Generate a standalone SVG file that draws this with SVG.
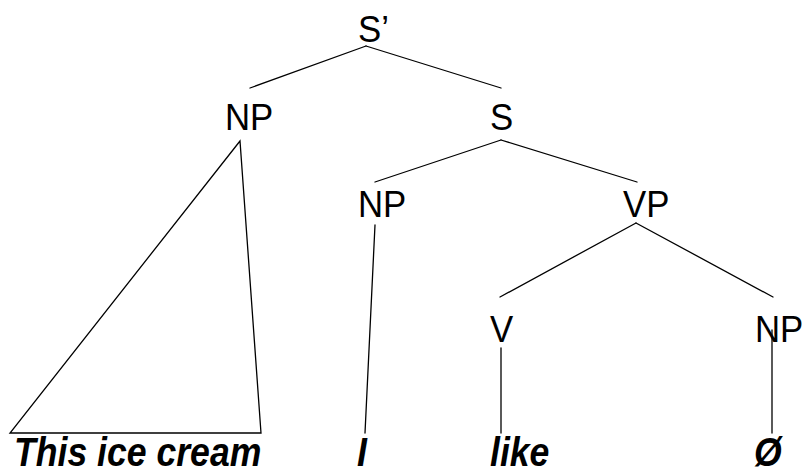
<svg xmlns="http://www.w3.org/2000/svg" width="802" height="468" viewBox="0 0 802 468">
  <style>
    .cat { font-family: "Liberation Sans", Arial, sans-serif; font-size: 37px; fill: #000; }
    .word { font-family: "Liberation Sans", Arial, sans-serif; font-size: 40px; font-weight: bold; font-style: italic; fill: #000; }
    .edge { stroke: #000; stroke-width: 1.3; fill: none; stroke-linecap: round; stroke-linejoin: miter; }
  </style>
  <rect width="802" height="468" fill="#fff"/>

  <!-- tree branches -->
  <g id="connectors">
    <line class="edge" x1="366" y1="46" x2="250" y2="88"/>
    <line class="edge" x1="366" y1="46" x2="501" y2="88"/>
    <polygon class="edge" points="240,141 10,433 261,433"/>
    <line class="edge" x1="501" y1="140" x2="375" y2="182"/>
    <line class="edge" x1="501" y1="140" x2="637" y2="182"/>
    <line class="edge" x1="375" y1="225" x2="365" y2="433"/>
    <line class="edge" x1="636" y1="223" x2="500" y2="297"/>
    <line class="edge" x1="636" y1="223" x2="773" y2="297"/>
    <line class="edge" x1="501" y1="348" x2="501" y2="433"/>
    <line class="edge" x1="772" y1="330" x2="772" y2="433"/>
  </g>

  <!-- category labels (slightly condensed sans) -->
  <g id="node-sbar"><text class="cat" transform="translate(358,42) scale(0.94,1)">S’</text></g>
  <g id="node-np-topic"><text class="cat" transform="translate(225,130) scale(0.94,1)">NP</text></g>
  <g id="node-s"><text class="cat" transform="translate(490,130) scale(0.94,1)">S</text></g>
  <g id="node-np-subj"><text class="cat" transform="translate(358,217) scale(0.94,1)">NP</text></g>
  <g id="node-vp"><text class="cat" transform="translate(623,217) scale(0.94,1)">VP</text></g>
  <g id="node-v"><text class="cat" transform="translate(490,342) scale(0.94,1)">V</text></g>
  <g id="node-np-obj"><text class="cat" transform="translate(755,342) scale(0.94,1)">NP</text></g>

  <!-- terminal words (bold italic, condensed) -->
  <g id="word-this-ice-cream"><text class="word" transform="translate(14,466) scale(0.89,1)">This ice cream</text></g>
  <g id="word-i"><text class="word" transform="translate(357,466) scale(0.89,1)">I</text></g>
  <g id="word-like"><text class="word" transform="translate(490,466) scale(0.89,1)">like</text></g>
  <g id="word-null"><text class="word" transform="translate(754,466) scale(0.89,1)">Ø</text></g>
</svg>
